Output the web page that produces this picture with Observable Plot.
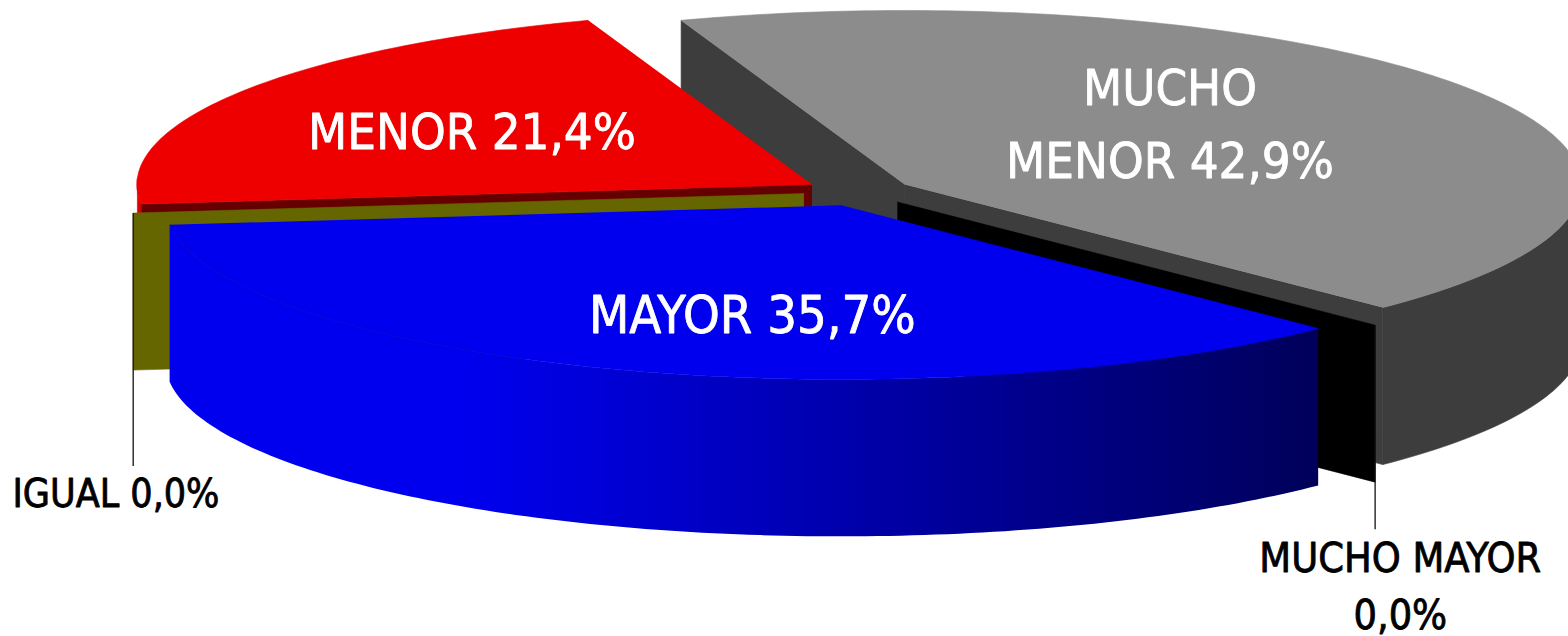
<!DOCTYPE html>
<html>
<head>
<meta charset="utf-8">
<style>
html,body{margin:0;padding:0;background:#fff;}
svg{display:block;}
</style>
<script src="https://cdn.jsdelivr.net/npm/d3@7"></script>
<script src="https://cdn.jsdelivr.net/npm/@observablehq/plot@0.6"></script>
</head>
<body>
<div id="chart"></div>
<script>
// Data, clockwise from the first slice
const categories = ["MUCHO MENOR", "MUCHO MAYOR", "MAYOR", "IGUAL", "MENOR"];
const shares = [42.9, 0, 35.7, 0, 21.4];
const labelTexts = ["MUCHO\nMENOR 42,9%", "MUCHO MAYOR\n0,0%", "MAYOR 35,7%", "IGUAL 0,0%", "MENOR 21,4%"];
const topColors = ["#8c8c8c", "#000000", "#0000ee", "#666600", "#ee0000"];
const radialColors = ["#3d3d3d", "#000000", "#00005a", "#666600", "#660000"];
const outerColors = ["#3d3d3d", "#000000", "url(#blueWall)", "#666600", "#dd0000"];
const labelColors = ["#fff", "#000", "#fff", "#000", "#fff"];
const labelSizes = [50.5, 41, 52, 39, 50.5];
const labelDx = [265, 503, -88, -688, -340];
const labelDy = [-66, 380, 104, 296, -59];
const leaderLengths = [0, 47, 0, 96, 0];

// Projection of the 3D pie
const W = 1568, H = 636;
const rx = 675.5, ry = 174, cx = 858, cy = 191.5;
const depth = 157 / ry, explode = 0.0813, arcShift = 0.5 / rx, startAngle = -19.4;
const rad = d => d * Math.PI / 180;

let a = startAngle;
const slices = categories.map((name, i) => {
  const a0 = a, a1 = a + shares[i] * 3.6;
  a = a1;
  const m = rad((a0 + a1) / 2);
  return {name, i, a0, a1, ax: Math.sin(m) * explode, ay: -Math.cos(m) * explode};
});
const onArc = (s, t) => ({x: s.ax + arcShift + Math.sin(rad(t)), y: s.ay - Math.cos(rad(t))});
const arcPoints = (s, t0, t1) => {
  const n = Math.max(1, Math.ceil(Math.abs(t1 - t0)));
  return d3.range(n + 1).map(k => onArc(s, t0 + (t1 - t0) * k / n));
};
const drop = p => ({x: p.x, y: p.y + depth});
const apex = s => ({x: s.ax, y: s.ay});

const topFace = s => [apex(s), ...arcPoints(s, s.a0, s.a1)];
const radialWall = (s, t) => { const p = onArc(s, t); return [apex(s), p, drop(p), drop(apex(s))]; };
const outerWall = (s, t0, t1) => { const pts = arcPoints(s, t0, t1); return [...pts, ...pts.slice().reverse().map(drop)]; };

const poly = (pts, fill) => Plot.line(pts, {x: "x", y: "y", fill, stroke: fill === "url(#blueWall)" ? "none" : fill, strokeWidth: 0.6});

const [gray, black, blue, olive, red] = slices;
const marks = [
  () => {
    const ns = "http://www.w3.org/2000/svg";
    const defs = document.createElementNS(ns, "defs");
    defs.innerHTML = `<linearGradient id="blueWall" x1="0" x2="1" y1="0" y2="0">
      <stop offset="0.26" stop-color="#0000ee"/><stop offset="1" stop-color="#00005a"/></linearGradient>`;
    return defs;
  },
  // back to front
  poly(radialWall(gray, gray.a0), radialColors[0]),
  poly(outerWall(gray, 80, gray.a1), outerColors[0]),
  poly(radialWall(gray, gray.a1), radialColors[0]),
  poly(topFace(gray), topColors[0]),
  poly(radialWall(black, black.a0), radialColors[1]),
  poly(outerWall(red, red.a0, 272), outerColors[4]),
  poly(radialWall(red, red.a0), radialColors[4]),
  poly(topFace(red), topColors[4]),
  poly(radialWall(olive, olive.a0), radialColors[3]),
  poly(outerWall(blue, blue.a0, blue.a1), outerColors[2]),
  poly(topFace(blue), topColors[2])
];

// Leader lines of the zero slices
const leaders = slices.filter(s => leaderLengths[s.i] > 0).map(s => {
  const p = onArc(s, s.a0);
  return {x: p.x, y1: p.y, y2: p.y + depth + leaderLengths[s.i] / ry};
});
marks.push(Plot.link(leaders, {x1: "x", x2: "x", y1: "y1", y2: "y2", stroke: "#111", strokeWidth: 1.3}));

// Labels
for (const s of slices) {
  marks.push(Plot.text([{x: s.ax, y: s.ay, t: labelTexts[s.i]}], {
    x: "x", y: "y", text: "t", dx: labelDx[s.i], dy: labelDy[s.i],
    fill: labelColors[s.i], stroke: labelColors[s.i], strokeWidth: 0.8,
    fontSize: labelSizes[s.i], lineHeight: s.i === 1 ? 1.39 : 1.43,
    fontFamily: "'DejaVu Sans Condensed', 'DejaVu Sans', sans-serif", textAnchor: "middle", lineAnchor: "middle"
  }));
}

const chart = Plot.plot({
  width: W, height: H, margin: 0,
  style: {background: "#fff", overflow: "hidden", fontStretch: "condensed"},
  x: {axis: null, domain: [-cx / rx, (W - cx) / rx], range: [0, W]},
  y: {axis: null, domain: [-cy / ry, (H - cy) / ry], range: [0, H]},
  marks
});
document.getElementById("chart").append(chart);
</script>
</body>
</html>
